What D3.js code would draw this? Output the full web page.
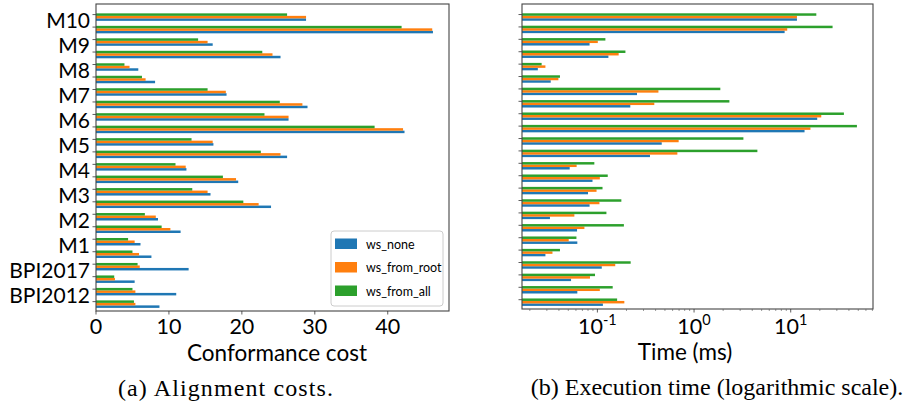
<!DOCTYPE html>
<html>
<head>
<meta charset="utf-8">
<script src="https://cdn.jsdelivr.net/npm/d3@7"></script>
<style>
  body { margin: 0; background: #fff; }
  svg { display: block; }
  text { font-family: Lato, "Open Sans", sans-serif; fill: #000; }
  .caption { font-family: "Liberation Serif", serif; }
</style>
</head>
<body>
<div id="chart"></div>
<script>
// datasets top to bottom, each with two rows of bars
const datasets = ['M10', 'M9', 'M8', 'M7', 'M6', 'M5', 'M4', 'M3', 'M2', 'M1', 'BPI2017', 'BPI2012'];
const series = ['ws_none', 'ws_from_root', 'ws_from_all'];
const colors = ['#1f77b4', '#ff7f0e', '#2ca02c'];

// conformance cost, one value per row (24 rows)
const costNone = [28.8, 46.2, 16.0, 25.3, 5.8, 8.1, 17.9, 29.0, 26.4, 42.3, 16.1, 26.2,
    12.4, 19.5, 15.7, 24.0, 8.5, 11.6, 6.1, 7.6, 12.7, 5.3, 11.0, 8.7];
const costRoot = [28.8, 46.1, 15.3, 24.2, 4.6, 6.8, 17.8, 28.3, 26.4, 42.1, 16.0, 25.3,
    12.3, 19.2, 15.3, 22.3, 8.2, 10.2, 5.3, 5.9, 6.0, 2.6, 5.4, 5.4];
const costAll = [26.2, 41.9, 14.0, 22.8, 3.9, 6.3, 15.3, 25.2, 23.1, 38.2, 13.1, 22.6,
    10.9, 17.4, 13.2, 20.2, 6.7, 9.0, 4.4, 5.0, 5.7, 2.5, 5.0, 5.2];

// execution time in ms
const timeNone = [11.6, 8.65, 0.083, 0.130, 0.0242, 0.0329, 0.257, 0.219, 18.8, 13.9, 0.463, 0.35,
    0.0517, 0.089, 0.080, 0.083, 0.0323, 0.0616, 0.062, 0.029, 0.111, 0.0534, 0.062, 0.114];
const timeRoot = [11.6, 9.2, 0.101, 0.166, 0.029, 0.0395, 0.428, 0.388, 20.7, 16.0, 0.693, 0.672,
    0.061, 0.106, 0.098, 0.105, 0.0578, 0.0734, 0.0505, 0.0343, 0.153, 0.0838, 0.106, 0.19];
const timeAll = [18.4, 27.1, 0.121, 0.195, 0.0265, 0.041, 1.87, 2.32, 35.5, 48.4, 3.24, 4.52,
    0.093, 0.128, 0.113, 0.177, 0.124, 0.188, 0.0607, 0.041, 0.221, 0.0945, 0.144, 0.160];

const costTicks = [0, 10, 20, 30, 40];
const timeTicks = [0.1, 1, 10];

const width = 904;
const height = 412;
const rows = d3.range(costNone.length);
const offsets = [0.4, 0.2, 0]; // per series, in row units
const barH = 0.2;

const svg = d3.select('#chart')
    .append('svg')
    .attr('width', width)
    .attr('height', height);

function drawPanel(opts) {
    const g = svg.append('g');
    const x = opts.x;
    const y = d3.scaleLinear().domain([-0.85, 23.75]).range(opts.yRange);
    const [x0, x1] = x.range();
    const [yTop, yBot] = y.range();

    // bars
    opts.values.forEach((vals, s) => {
        g.append('g')
            .selectAll('rect')
            .data(rows)
            .join('rect')
            .attr('x', x0)
            .attr('y', i => y(i + offsets[s] - barH / 2))
            .attr('width', i => x(vals[i]) - x0)
            .attr('height', y(barH) - y(0))
            .attr('fill', colors[s]);
    });

    // y ticks
    g.append('g')
        .selectAll('line')
        .data(rows)
        .join('line')
        .attr('x1', x0 - 3.5)
        .attr('x2', x0)
        .attr('y1', i => y(i))
        .attr('y2', i => y(i))
        .attr('stroke', '#333')
        .attr('stroke-width', 0.8);

    // frame
    g.append('rect')
        .attr('x', x0)
        .attr('y', yTop)
        .attr('width', x1 - x0)
        .attr('height', yBot - yTop)
        .attr('fill', 'none')
        .attr('stroke', '#444')
        .attr('stroke-width', 1.1);

    return { g, x, y, x0, x1, yTop, yBot };
}

// (a) alignment costs
const xCost = d3.scaleLinear().domain([0, 48.4]).range([96, 449]);
const a = drawPanel({ x: xCost, yRange: [4, 311], values: [costNone, costRoot, costAll] });

a.g.append('g')
    .selectAll('text')
    .data(datasets)
    .join('text')
    .attr('x', 90)
    .attr('y', (d, k) => a.y(2 * k + 0.5))
    .attr('dy', '0.36em')
    .attr('text-anchor', 'end')
    .attr('font-size', 21)
    .text(d => d);

const aTicks = a.g.append('g')
    .selectAll('g')
    .data(costTicks)
    .join('g')
    .attr('transform', d => `translate(${xCost(d)},${a.yBot})`);
aTicks.append('line').attr('y2', 3.5).attr('stroke', '#333').attr('stroke-width', 0.8);
aTicks.append('text')
    .attr('y', 22.5)
    .attr('text-anchor', 'middle')
    .attr('font-size', 21.5)
    .text(d => d);

a.g.append('text')
    .attr('x', 277)
    .attr('y', 361)
    .attr('text-anchor', 'middle')
    .attr('font-size', 22.5)
    .text('Conformance cost');

// legend
const legend = a.g.append('g').attr('transform', 'translate(331,231)');
legend.append('rect')
    .attr('width', 112)
    .attr('height', 75)
    .attr('rx', 3)
    .attr('fill', '#fff')
    .attr('fill-opacity', 0.9)
    .attr('stroke', '#ccc');
series.forEach((name, s) => {
    const row = legend.append('g').attr('transform', `translate(4,${7.5 + s * 23.5})`);
    row.append('rect').attr('width', 22).attr('height', 10.5).attr('fill', colors[s]);
    row.append('text')
        .attr('x', 31)
        .attr('y', 5.5)
        .attr('dy', '0.36em')
        .attr('font-size', 12.5)
        .text(name);
});

// (b) execution time
const xTime = d3.scaleLog().domain([0.0166, 71]).range([522, 873]);
const b = drawPanel({ x: xTime, yRange: [4, 309], values: [timeNone, timeRoot, timeAll] });

const minor = xTime.ticks().filter(d => !timeTicks.some(t => Math.abs(t - d) < 1e-9));
b.g.append('g')
    .selectAll('line')
    .data(minor)
    .join('line')
    .attr('x1', d => xTime(d))
    .attr('x2', d => xTime(d))
    .attr('y1', b.yBot)
    .attr('y2', b.yBot + 2)
    .attr('stroke', '#555')
    .attr('stroke-width', 0.6);

const bTicks = b.g.append('g')
    .selectAll('g')
    .data(timeTicks)
    .join('g')
    .attr('transform', d => `translate(${xTime(d)},${b.yBot})`);
bTicks.append('line').attr('y2', 3.5).attr('stroke', '#333').attr('stroke-width', 0.8);
const bLabel = bTicks.append('text')
    .attr('y', 25)
    .attr('text-anchor', 'middle')
    .attr('font-size', 21.5);
bLabel.append('tspan').text('10');
bLabel.append('tspan')
    .attr('dy', -9)
    .attr('font-size', 14.5)
    .text(d => Math.round(Math.log10(d)));

b.g.append('text')
    .attr('x', 685)
    .attr('y', 360)
    .attr('text-anchor', 'middle')
    .attr('font-size', 22.5)
    .text('Time (ms)');

// captions
svg.append('text')
    .attr('class', 'caption')
    .attr('x', 226)
    .attr('y', 396)
    .attr('text-anchor', 'middle')
    .attr('font-size', 24)
    .attr('letter-spacing', 1.1)
    .text('(a) Alignment costs.');

svg.append('text')
    .attr('class', 'caption')
    .attr('x', 717)
    .attr('y', 395)
    .attr('text-anchor', 'middle')
    .attr('font-size', 24)
    .text('(b) Execution time (logarithmic scale).');
</script>
</body>
</html>
